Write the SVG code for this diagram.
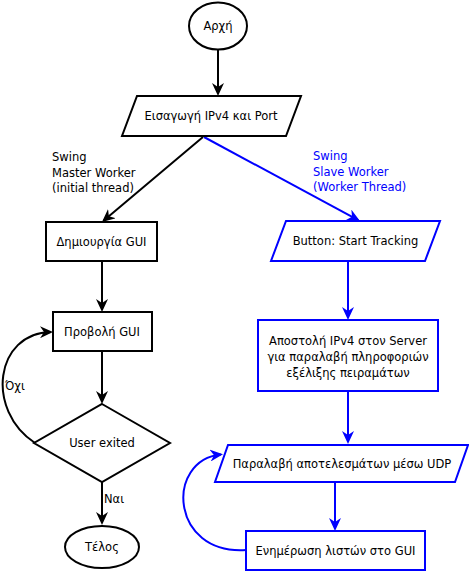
<svg xmlns="http://www.w3.org/2000/svg" width="469" height="571" viewBox="0 0 469 571">
<style>
  .blk { fill: #ffffff; stroke: #000000; stroke-width: 2; }
  .blu { fill: #ffffff; stroke: #0000ff; stroke-width: 2; }
  .t { font-family: "DejaVu Sans", "Liberation Sans", sans-serif; font-size: 11.5px; fill: #000000; text-anchor: middle; dominant-baseline: central; }
  .lbl { font-family: "DejaVu Sans", "Liberation Sans", sans-serif; font-size: 11.5px; }
  .cb { fill: none; stroke: #000000; stroke-width: 2; marker-end: url(#ab); }
  .cu { fill: none; stroke: #0000ff; stroke-width: 2; marker-end: url(#au); }
</style>
<defs>
  <marker id="ab" viewBox="0 0 13 12" refX="11" refY="6" markerWidth="13" markerHeight="12" markerUnits="userSpaceOnUse" orient="auto">
    <path d="M0,0 L13,6 L0,12 L4,6 Z" fill="#000000"/>
  </marker>
  <marker id="au" viewBox="0 0 13 12" refX="11" refY="6" markerWidth="13" markerHeight="12" markerUnits="userSpaceOnUse" orient="auto">
    <path d="M0,0 L13,6 L0,12 L4,6 Z" fill="#0000ff"/>
  </marker>
</defs>
<rect width="469" height="571" fill="#ffffff"/>

<g id="connectors">
  <path class="cb" d="M218,50 L218,94"/>
  <path class="cb" d="M203,137 L103.5,220.7"/>
  <path class="cb" d="M102,261 L102,310"/>
  <path class="cb" d="M102,351 L102,402"/>
  <path class="cb" d="M102,482 L102,523"/>
  <path class="cb" d="M35,443 C -15,410 -5,333 51,332"/>
  <path class="cu" d="M204,137 L358.2,220.1"/>
  <path class="cu" d="M348,261 L348,318"/>
  <path class="cu" d="M348,391 L348,442"/>
  <path class="cu" d="M335,482 L335,529"/>
  <path class="cu" d="M246,550 C 170,555 165,460 221,454.5"/>
  <text class="lbl" x="52" y="161" fill="#000000">Swing</text>
  <text class="lbl" x="52" y="177" fill="#000000">Master Worker</text>
  <text class="lbl" x="52" y="192" fill="#000000">(initial thread)</text>
  <text class="lbl" x="313" y="160" fill="#0000ff">Swing</text>
  <text class="lbl" x="313" y="176" fill="#0000ff">Slave Worker</text>
  <text class="lbl" x="313" y="191" fill="#0000ff">(Worker Thread)</text>
  <text class="lbl" x="5" y="390" fill="#000000">Όχι</text>
  <text class="lbl" x="104" y="503" fill="#000000">Ναι</text>
</g>

<g id="start">
  <ellipse class="blk" cx="218" cy="26" rx="29" ry="23.5"/>
  <text class="t" x="218" y="26">Αρχή</text>
</g>
<g id="input">
  <polygon class="blk" points="137,96 301,96 286,136 122,136"/>
  <text class="t" x="211" y="116">Εισαγωγή IPv4 και Port</text>
</g>
<g id="create-gui">
  <rect class="blk" x="46" y="222" width="111" height="39"/>
  <text class="t" x="101.5" y="242">Δημιουργία GUI</text>
</g>
<g id="show-gui">
  <rect class="blk" x="53" y="312" width="99" height="39"/>
  <text class="t" x="102" y="332">Προβολή GUI</text>
</g>
<g id="user-exited">
  <polygon class="blk" points="102,404 170,443 102,482 34,443"/>
  <text class="t" x="102" y="443">User exited</text>
</g>
<g id="end">
  <ellipse class="blk" cx="102" cy="547" rx="37" ry="21"/>
  <text class="t" x="102" y="547">Τέλος</text>
</g>
<g id="button">
  <polygon class="blu" points="286,221 440,221 425,261 271,261"/>
  <text class="t" x="355.5" y="241">Button: Start Tracking</text>
</g>
<g id="send">
  <rect class="blu" x="258" y="320" width="180" height="71"/>
  <text class="t" x="348" y="341">Αποστολή IPv4 στον Server</text>
  <text class="t" x="348" y="357">για παραλαβή πληροφοριών</text>
  <text class="t" x="348" y="373">εξέλιξης πειραμάτων</text>
</g>
<g id="receive">
  <polygon class="blu" points="228,445 468,445 455,482 215,482"/>
  <text class="t" x="342" y="464">Παραλαβή αποτελεσμάτων μέσω UDP</text>
</g>
<g id="update">
  <rect class="blu" x="246" y="531" width="179" height="39"/>
  <text class="t" x="335.5" y="551">Ενημέρωση λιστών στο GUI</text>
</g>
</svg>
